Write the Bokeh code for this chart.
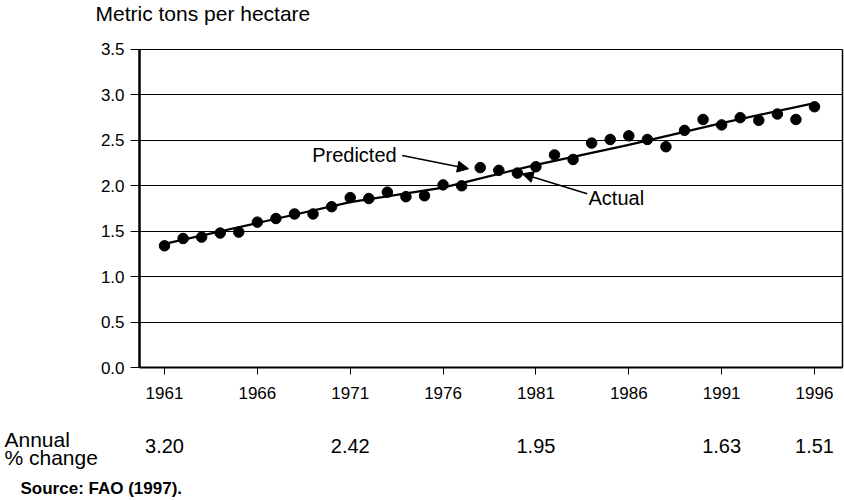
from bokeh.plotting import figure
from bokeh.models import (Range1d, FixedTicker, Label, Arrow, NormalHead,
                          CustomJSTickFormatter, LinearAxis, Grid)
from bokeh.embed import file_html
from bokeh.resources import INLINE

# ---- data ----
years = list(range(1961, 1997))
actual = [1.34, 1.42, 1.435, 1.48, 1.49, 1.60, 1.64, 1.69, 1.69, 1.77,
          1.87, 1.86, 1.93, 1.88, 1.89, 2.01, 2.00, 2.20, 2.17, 2.14,
          2.21, 2.34, 2.29, 2.47, 2.51, 2.55, 2.51, 2.43, 2.61, 2.73,
          2.67, 2.75, 2.72, 2.79, 2.73, 2.87]
pred_years = [1961, 1966, 1971, 1976, 1981, 1986, 1991, 1996]
predicted = [1.36, 1.59, 1.82, 1.98, 2.23, 2.45, 2.69, 2.91]
tick_years = [1961, 1966, 1971, 1976, 1981, 1986, 1991, 1996]
y_ticks = [0.0, 0.5, 1.0, 1.5, 2.0, 2.5, 3.0, 3.5]
change_years = [1961, 1971, 1981, 1991, 1996]
change_vals = ["3.20", "2.42", "1.95", "1.63", "1.51"]

FONT = "Liberation Sans"
X_LO, X_HI = 1959.654, 1997.508   # chart box (years)
Y_LO, Y_HI = 0.0, 3.5             # chart box (t/ha)

# the frame covers the whole canvas; the chart box is drawn with fixed axes
p = figure(width=844, height=500, output_backend="svg", toolbar_location=None,
           x_range=Range1d(1952.169, 1997.615), y_range=Range1d(-1.4638, 4.0393),
           x_axis_type=None, y_axis_type=None, min_border=0)
p.min_border_left = p.min_border_right = p.min_border_top = p.min_border_bottom = 0
p.outline_line_color = None
p.background_fill_color = "white"
p.border_fill_color = "white"

# horizontal grid lines, limited to the chart box
grid = Grid(dimension=1, ticker=FixedTicker(ticks=y_ticks), grid_line_color="black",
            grid_line_width=1.2, bounds=(Y_LO, Y_HI))
if "cross_bounds" in Grid.properties():
    grid.cross_bounds = (X_LO, X_HI)
    p.add_layout(grid)
else:
    p.segment(x0=[X_LO] * len(y_ticks), x1=[X_HI] * len(y_ticks), y0=y_ticks, y1=y_ticks,
              line_color="black", line_width=1.2)

# y axis
yax = LinearAxis(fixed_location=X_LO, bounds=(Y_LO, Y_HI),
                 ticker=FixedTicker(ticks=y_ticks),
                 formatter=CustomJSTickFormatter(code="return tick.toFixed(1);"))
yax.axis_line_width = 2.5
yax.major_tick_out = 9
yax.major_tick_in = 0
yax.minor_tick_line_color = None
yax.major_label_text_font = FONT
yax.major_label_text_font_size = "17px"
yax.major_label_text_color = "black"
yax.major_label_standoff = 6
p.add_layout(yax, "left")

# right border of chart box
rax = LinearAxis(fixed_location=X_HI, bounds=(Y_LO, Y_HI), ticker=FixedTicker(ticks=[]))
rax.axis_line_width = 1.5
rax.major_tick_line_color = None
rax.minor_tick_line_color = None
rax.major_label_text_font_size = "0px"
p.add_layout(rax, "right")

# x axis
xax = LinearAxis(fixed_location=Y_LO, bounds=(X_LO, X_HI),
                 ticker=FixedTicker(ticks=tick_years))
xax.axis_line_width = 2
xax.major_tick_out = 7
xax.major_tick_in = 0
xax.minor_tick_line_color = None
xax.major_label_text_font = FONT
xax.major_label_text_font_size = "17px"
xax.major_label_text_color = "black"
xax.major_label_standoff = 12
p.add_layout(xax, "below")

# series
p.line(pred_years, predicted, line_color="black", line_width=2.2, line_join="round")
p.scatter(years, actual, size=10.5, fill_color="black", line_color="black")

# callouts
p.add_layout(Label(x=1973.5, y=2.344, text="Predicted", text_align="right",
                   text_baseline="alphabetic", text_font=FONT, text_font_size="20px",
                   text_color="black"))
p.add_layout(Arrow(x_start=1973.8, y_start=2.333, x_end=1977.37, y_end=2.187,
                   line_width=1.6, line_color="black",
                   end=NormalHead(size=11, fill_color="black", line_color="black")))
p.add_layout(Label(x=1983.83, y=1.871, text="Actual", text_align="left",
                   text_baseline="alphabetic", text_font=FONT, text_font_size="20px",
                   text_color="black"))
p.add_layout(Arrow(x_start=1983.76, y_start=1.912, x_end=1980.26, y_end=2.132,
                   line_width=1.6, line_color="black",
                   end=NormalHead(size=11, fill_color="black", line_color="black")))

# unit title
p.add_layout(Label(x=1957.285, y=3.896, text="Metric tons per hectare", text_align="left",
                   text_baseline="alphabetic", text_font=FONT, text_font_size="21px",
                   text_color="black"))

# annual % change row
p.add_layout(Label(x=1952.384, y=-0.7925, text="Annual", text_align="left",
                   text_baseline="alphabetic", text_font=FONT, text_font_size="21px",
                   text_color="black"))
p.add_layout(Label(x=1952.384, y=-0.9906, text="% change", text_align="left",
                   text_baseline="alphabetic", text_font=FONT, text_font_size="21px",
                   text_color="black"))
p.text(x=change_years, y=[-0.8585] * len(change_years), text=change_vals,
       text_align="center", text_baseline="alphabetic", text_font_size="20px",
       text_color="black", text_font={"value": FONT})

p.add_layout(Label(x=1953.246, y=-1.3318, text="Source:  FAO (1997).", text_align="left",
                   text_baseline="alphabetic", text_font=FONT, text_font_size="17px",
                   text_font_style="bold", text_color="black"))

open("out.html", "w").write(file_html(p, INLINE))
